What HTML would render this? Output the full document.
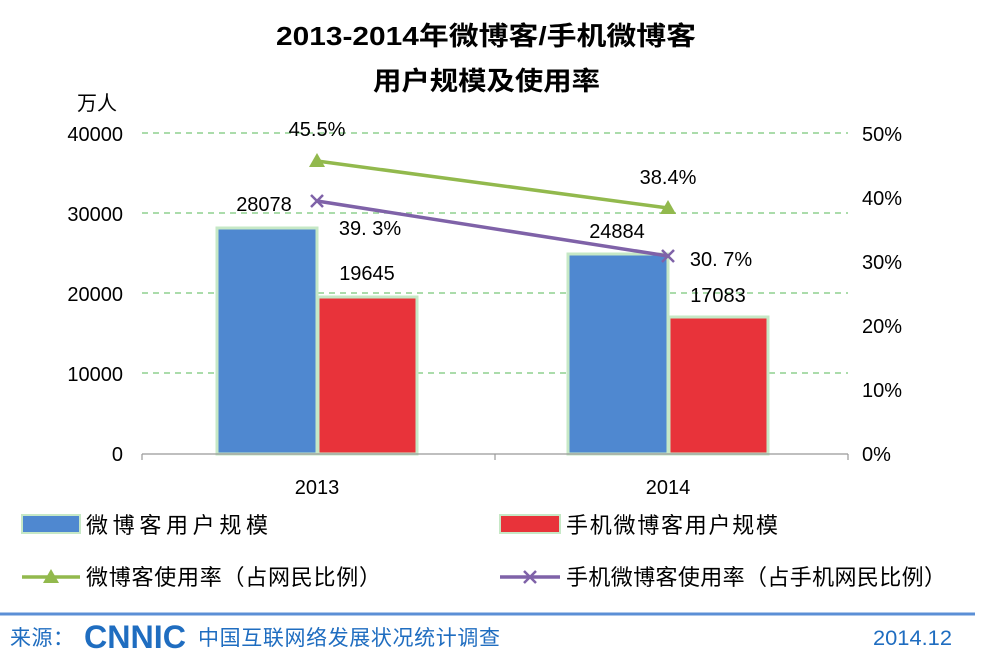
<!DOCTYPE html>
<html><head><meta charset="utf-8"><style>
body{margin:0;background:#fff;}
svg{display:block;font-family:"Liberation Sans","Noto Sans CJK SC",sans-serif;}
</style></head><body>
<svg width="985" height="659" viewBox="0 0 985 659">
<rect width="985" height="659" fill="#fff"/>
<text x="276" y="45" font-size="26" font-weight="bold" fill="#000" textLength="420" lengthAdjust="spacingAndGlyphs">2013-2014年微博客/手机微博客</text>
<text x="373" y="90" font-size="26" font-weight="bold" fill="#000" textLength="227" lengthAdjust="spacingAndGlyphs">用户规模及使用率</text>
<text x="97" y="110" text-anchor="middle" font-size="20">万人</text>
<g stroke="#8fd08f" stroke-width="1.5" stroke-dasharray="6,5">
<line x1="142" y1="133" x2="848" y2="133"/>
<line x1="142" y1="213" x2="848" y2="213"/>
<line x1="142" y1="293" x2="848" y2="293"/>
<line x1="142" y1="373" x2="848" y2="373"/>
</g>
<g font-size="20" text-anchor="end">
<text x="123" y="141">40000</text><text x="123" y="221">30000</text><text x="123" y="301">20000</text><text x="123" y="381">10000</text><text x="123" y="461">0</text>
</g>
<g font-size="20">
<text x="862" y="141">50%</text><text x="862" y="205">40%</text><text x="862" y="269">30%</text><text x="862" y="333">20%</text><text x="862" y="397">10%</text><text x="862" y="461">0%</text>
</g>
<g stroke="#c6e8c6" stroke-width="3">
<rect x="217" y="228" width="100" height="226" fill="#4f88d0"/>
<rect x="318" y="297" width="99" height="157" fill="#e8333a"/>
<rect x="568" y="254" width="100" height="200" fill="#4f88d0"/>
<rect x="669" y="317" width="99" height="137" fill="#e8333a"/>
</g>
<g stroke="#999" stroke-width="1.2">
<line x1="142" y1="454" x2="848" y2="454"/>
<line x1="142" y1="454" x2="142" y2="460"/><line x1="495" y1="454" x2="495" y2="460"/><line x1="848" y1="454" x2="848" y2="460"/>
</g>
<g font-size="20" text-anchor="middle">
<text x="317" y="494">2013</text><text x="668" y="494">2014</text>
<text x="264" y="211">28078</text><text x="367" y="280">19645</text>
<text x="617" y="238">24884</text><text x="718" y="302">17083</text>
<text x="317" y="136">45.5%</text><text x="668" y="184">38.4%</text>
<text x="370" y="235">39. 3%</text><text x="721" y="266">30. 7%</text>
</g>
<line x1="317" y1="161" x2="668" y2="208" stroke="#92b94d" stroke-width="3.5"/>
<polygon points="317,153 309,167 325,167" fill="#92b94d"/>
<polygon points="668,200 660,214 676,214" fill="#92b94d"/>
<line x1="317" y1="201" x2="668" y2="256" stroke="#7f62a8" stroke-width="3.5"/>
<g stroke="#7f62a8" stroke-width="2.5">
<path d="M311 195l12 12M323 195l-12 12"/><path d="M662 250l12 12M674 250l-12 12"/>
</g>
<g font-size="22">
<rect x="22" y="515" width="58" height="18" fill="#4f88d0" stroke="#c6e8c6" stroke-width="2"/>
<text x="86" y="533" textLength="182" lengthAdjust="spacing">微博客用户规模</text>
<rect x="500" y="515" width="60" height="18" fill="#e8333a" stroke="#c6e8c6" stroke-width="2"/>
<text x="566" y="533" textLength="212" lengthAdjust="spacing">手机微博客用户规模</text>
<line x1="22" y1="577" x2="80" y2="577" stroke="#92b94d" stroke-width="3.5"/>
<polygon points="51,569 43,583 59,583" fill="#92b94d"/>
<text x="86" y="585" textLength="295" lengthAdjust="spacing">微博客使用率（占网民比例）</text>
<line x1="500" y1="577" x2="560" y2="577" stroke="#7f62a8" stroke-width="3.5"/>
<path d="M524 571l12 12M536 571l-12 12" stroke="#7f62a8" stroke-width="2.5"/>
<text x="566" y="585" textLength="380" lengthAdjust="spacing">手机微博客使用率（占手机网民比例）</text>
</g>
<line x1="0" y1="614" x2="975" y2="614" stroke="#5b8fd6" stroke-width="3"/>
<g fill="#1f6dc0" font-size="21">
<text x="10" y="645" textLength="64" lengthAdjust="spacing">来源：</text>
<text x="84" y="648" font-size="32" font-weight="bold" textLength="102" lengthAdjust="spacingAndGlyphs">CNNIC</text>
<text x="198" y="645" textLength="302" lengthAdjust="spacing">中国互联网络发展状况统计调查</text>
<text x="873" y="645" textLength="79" lengthAdjust="spacingAndGlyphs">2014.12</text>
</g>
</svg>
</body></html>
